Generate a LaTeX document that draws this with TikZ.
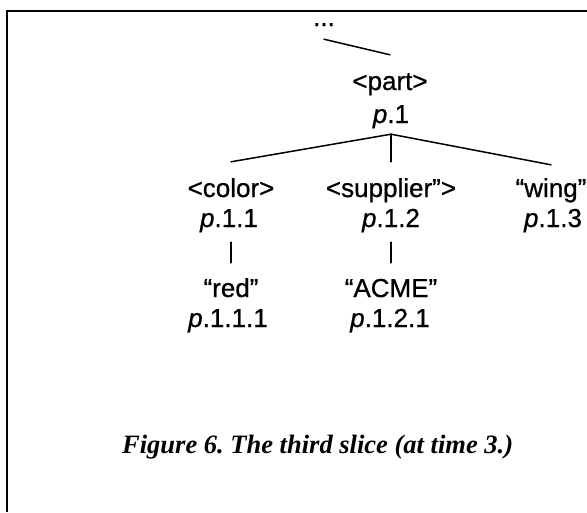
\documentclass[tikz,border=0pt]{standalone}
\usepackage{fontspec}
\setmainfont{Liberation Serif}
\newfontfamily\treefont[FakeBold=0.8]{Liberation Sans}
\begin{document}
\frenchspacing
\begin{tikzpicture}[x=1pt,y=-1pt,
  txt/.style={font=\treefont\fontsize{26}{30}\selectfont, inner xsep=0pt,
    text height=19pt, text depth=6pt, anchor=base},
  word/.style={txt, inner ysep=16pt},
  pnum/.style={txt, inner ysep=5pt},
  edge/.style={line width=1.5pt, line cap=round},
  frame/.style={line width=2.3pt}]
\useasboundingbox (0,0) rectangle (587,512);
% frame (top and left rules)
\draw[frame] (587,11) -- (7,11) -- (7,512);

% tree nodes
\node[txt, inner ysep=7pt] (dots) at (324,26) {...};
\node[word] (part) at (390,90) {<part>};
\node[pnum] (p1) at (391,123) {\textit{p}.1};
\node[word] (color) at (231,197) {<color>};
\node[pnum] (p11) at (229,227) {\textit{p}.1.1};
\node[word] (supp) at (391,197) {<supplier”>};
\node[pnum] (p12) at (391,227) {\textit{p}.1.2};
\node[word, inner ysep=13pt] (wing) at (551,197) {“wing”};
\node[pnum] (p13) at (553,227) {\textit{p}.1.3};
\node[word, inner ysep=15pt] (red) at (231,297) {“red”};
\node[pnum] (p111) at (228,327) {\textit{p}.1.1.1};
\node[word, inner ysep=15pt] (acme) at (391,297) {“ACME”};
\node[pnum] (p121) at (390,327) {\textit{p}.1.2.1};

% connectors
\draw[edge] (dots.south) -- (part.north);
\draw[edge] (p1.south) -- (color.north);
\draw[edge] (p1.south) -- (supp.north);
\draw[edge] (p1.south) -- (wing.north);
\draw[edge] ([yshift=-4pt]red.north |- p11.south) -- (red.north);
\draw[edge] ([yshift=-4pt]acme.north |- p12.south) -- (acme.north);

% caption
\node[font=\fontsize{26.5}{30}\selectfont\bfseries\itshape, inner sep=0pt, anchor=base west] (cap)
  at (122,453) {Figure 6. The third slice (at time 3.)};
\end{tikzpicture}
\end{document}
